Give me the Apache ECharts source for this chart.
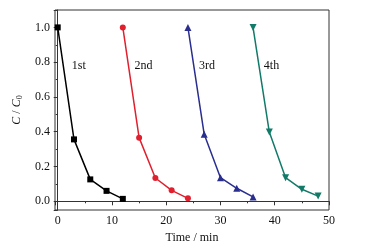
<!DOCTYPE html>
<html>
<head>
<meta charset="utf-8">
<script src="https://cdn.jsdelivr.net/npm/echarts@6/dist/echarts.min.js"></script>
<style>
  html, body { margin: 0; padding: 0; background: #fff; }
  #main { width: 365px; height: 249px; }
</style>
</head>
<body>
<div id="main"></div>
<script>
/* 每个循环的数据 [时间, C/C0] */
var run1 = [[0, 1.0], [3, 0.356], [6, 0.126], [9, 0.06], [12, 0.014]];
var run2 = [[12, 1.0], [15, 0.366], [18, 0.134], [21, 0.063], [24, 0.017]];
var run3 = [[24, 1.0], [27, 0.385], [30, 0.136], [33, 0.075], [36, 0.025]];
var run4 = [[36, 1.0], [39, 0.398], [42, 0.136], [45, 0.069], [48, 0.03]];
var runNames = ['1st', '2nd', '3rd', '4th'];
var runLabelPos = [[3.9, 0.78], [15.8, 0.78], [27.5, 0.78], [39.4, 0.78]];

var chart = echarts.init(document.getElementById('main'));
var font = 'Liberation Serif';

function makeSeries(idx, data, color, symbol, size, rotate) {
  return {
    name: runNames[idx],
    type: 'line',
    data: data,
    symbol: symbol,
    symbolSize: size,
    symbolRotate: rotate || 0,
    itemStyle: { color: color },
    lineStyle: { color: color, width: 1.5 },
    animation: false,
    markPoint: {
      symbol: 'circle',
      symbolSize: 0,
      label: {
        show: true,
        position: 'inside',
        formatter: runNames[idx],
        color: '#111',
        fontFamily: font,
        fontSize: 12
      },
      data: [{ coord: runLabelPos[idx] }]
    }
  };
}

var option = {
  backgroundColor: '#fff',
  grid: {
    left: 55, right: 36, top: 10, bottom: 39,
    show: true, borderColor: '#333', borderWidth: 1
  },
  xAxis: {
    type: 'value',
    min: -0.5,
    max: 50,
    splitNumber: 5,
    name: 'Time / min',
    nameLocation: 'middle',
    nameGap: 18,
    nameTextStyle: { fontFamily: font, fontSize: 12, color: '#111' },
    axisLine: { show: true, lineStyle: { color: '#333', width: 1 } },
    axisTick: { show: true, inside: false, length: 4, lineStyle: { color: '#333' } },
    minorTick: { show: true, splitNumber: 2, length: 2, lineStyle: { color: '#333' } },
    axisLabel: { fontFamily: font, fontSize: 12, color: '#111', margin: 5, showMinLabel: false },
    splitLine: { show: false }
  },
  yAxis: {
    type: 'value',
    min: -0.05,
    max: 1.1,
    splitNumber: 6,
    name: '{i|C} / {i|C}{s|0}',
    nameLocation: 'middle',
    nameGap: 29,
    nameTextStyle: {
      fontFamily: font, fontSize: 12, color: '#111',
      rich: {
        i: { fontFamily: font, fontSize: 12, fontStyle: 'italic', color: '#111' },
        s: { fontFamily: font, fontSize: 8, color: '#111', verticalAlign: 'bottom', padding: [6, 0, 0, 0] }
      }
    },
    axisLine: { show: true, lineStyle: { color: '#333', width: 1 } },
    axisTick: { show: true, inside: false, length: 4, lineStyle: { color: '#333' } },
    minorTick: { show: true, splitNumber: 2, length: 2, lineStyle: { color: '#333' } },
    axisLabel: {
      fontFamily: font, fontSize: 12, color: '#111', margin: 5,
      showMinLabel: false, showMaxLabel: false,
      formatter: function (v) { return v.toFixed(1); }
    },
    splitLine: { show: false }
  },
  series: [
    makeSeries(0, run1, '#000000', 'rect', 6),
    makeSeries(1, run2, '#e0202e', 'circle', 6),
    makeSeries(2, run3, '#2a2e8e', 'triangle', 7),
    makeSeries(3, run4, '#127a68', 'triangle', 7, 180)
  ]
};
chart.setOption(option);
</script>
</body>
</html>
